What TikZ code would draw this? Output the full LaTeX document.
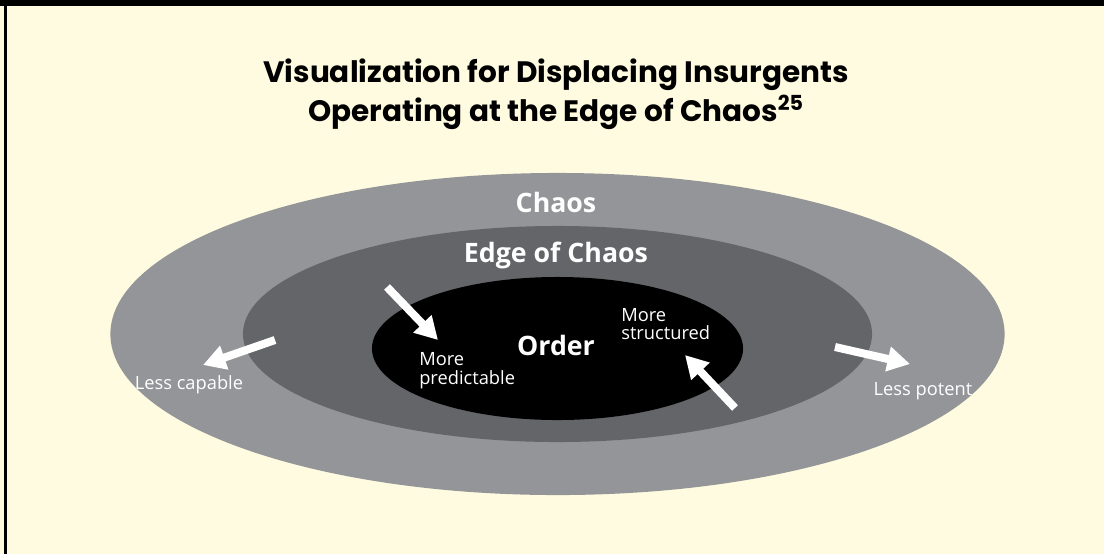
\documentclass[tikz,border=0pt]{standalone}
\usepackage{fontspec}
\setmainfont{Open Sans}
\newfontfamily\headfont{Poppins}
\usepackage{tikz}
\usetikzlibrary{arrows.meta}

\definecolor{paper}{RGB}{255,251,224}
\definecolor{chaosgray}{RGB}{147,149,152}
\definecolor{edgegray}{RGB}{99,101,105}

\begin{document}
\begin{tikzpicture}[x=0.025cm, y=-0.025cm,
    every node/.style={text=white, inner sep=0pt},
    zone/.style={font=\bfseries\fontsize{19}{22}\selectfont},
    hint/.style={font=\fontsize{13}{13.4}\selectfont, align=left},
    push/.style={white, line width=5.7pt, -{Triangle[length=16pt, width=17pt]}}]
    \useasboundingbox (0,0) rectangle (1104,554);
    \fill [paper] (0,0) rectangle (1104,554);
    \fill [black] (0,0) rectangle (1104,6);
    \fill [black] (4,0) rectangle (6.5,554);

    % title
    \node [text=black, anchor=base, font=\headfont\bfseries\fontsize{21}{25}\selectfont] (title1) at (556,82) {Visualization for Displacing Insurgents};
    \node [text=black, anchor=base, font=\headfont\bfseries\fontsize{21}{25}\selectfont] (title2) at (556,121) {Operating at the Edge of Chaos\textsuperscript{25}};

    % nested zones
    \fill [chaosgray] (557.5,334) ellipse [x radius=11.175cm, y radius=4.025cm];
    \fill [edgegray] (557.5,334) ellipse [x radius=7.8625cm, y radius=2.7cm];
    \fill [black] (557.5,348.5) ellipse [x radius=4.6375cm, y radius=1.7875cm];

    \node [zone] (chaos) at (556,202) {Chaos};
    \node [zone] (edge) at (556,255) {Edge of Chaos};
    \node [zone] (order) at (556,345) {Order};

    \node [hint, anchor=west] (predict) at (419,371) {More\\predictable};
    \node [hint, anchor=west] (struct) at (621,324) {More\\structured};
    \node [hint] (capable) at (189,385) {Less capable};
    \node [hint] (potent) at (923,391) {Less potent};

    % arrows
    \coordinate (a1) at (387,287);
    \coordinate (b1) at (438,340);
    \coordinate (a2) at (735,408);
    \coordinate (b2) at (685,355);
    \coordinate (a3) at (275,340);
    \coordinate (b3) at (203,365);
    \coordinate (a4) at (835,347);
    \coordinate (b4) at (910,364);
    \draw [push] (a1) -- (b1);
    \draw [push] (a2) -- (b2);
    \draw [push] (a3) -- (b3);
    \draw [push] (a4) -- (b4);
\end{tikzpicture}
\end{document}
